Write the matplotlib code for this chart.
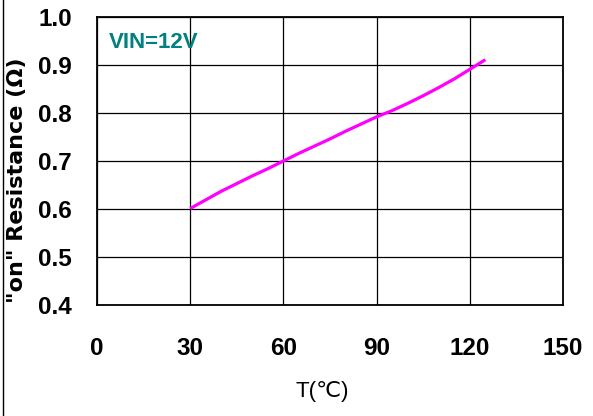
import numpy as np
import matplotlib.pyplot as plt
from matplotlib.lines import Line2D

temp_c = [30, 35, 40, 45, 50, 55, 60, 65, 70, 75, 80, 85, 90, 95, 100, 105, 110, 115, 120, 125]
r_on = [0.601, 0.619, 0.637, 0.653, 0.669, 0.684, 0.700, 0.716, 0.731, 0.746,
        0.762, 0.777, 0.792, 0.805, 0.820, 0.836, 0.853, 0.871, 0.891, 0.911]

x_ticks = [0, 30, 60, 90, 120, 150]
y_ticks = [0.4, 0.5, 0.6, 0.7, 0.8, 0.9, 1.0]

plt.rcParams['font.family'] = ['Liberation Sans', 'DejaVu Sans']

fig = plt.figure(figsize=(5.93, 4.16), dpi=100)
ax = fig.add_axes([97 / 593, 1 - 305 / 416, 466 / 593, 288 / 416])

ax.plot(temp_c, r_on, color='#ff00ff', lw=2.3, solid_capstyle='butt')

ax.set_xlim(0, 150)
ax.set_ylim(0.4, 1.0)
ax.set_xticks(x_ticks)
ax.set_yticks(y_ticks)
ax.set_xticklabels([str(t) for t in x_ticks])
ax.set_yticklabels([f'{v:.1f}' for v in y_ticks])
ax.grid(True, color='black', lw=0.9)
ax.tick_params(length=0, pad=0)
ax.tick_params(axis='x', pad=23)
ax.tick_params(axis='y', pad=18)
for lab in ax.get_xticklabels() + ax.get_yticklabels():
    lab.set_fontweight('bold')
    lab.set_fontsize(17.5)
for s in ax.spines.values():
    s.set_linewidth(1.3)

ax.text(0.025, 0.91, 'VIN=12V', transform=ax.transAxes, color='#008080',
        fontsize=16, fontweight='bold', va='center', ha='left')

fig.text(17 / 593, 1 - 180 / 416, '"on" Resistance (\u03a9)', rotation=90,
         fontsize=16, fontweight='bold', ha='center', va='center',
         family=['DejaVu Sans'])
fig.text(322 / 593, 1 - 392 / 416, 'T(\u2103)', fontsize=16,
         ha='center', va='center')

fig.add_artist(Line2D([2.5 / 593, 2.5 / 593], [0, 1], transform=fig.transFigure,
                      color='black', lw=1))

fig.savefig('out.png', dpi=100)
